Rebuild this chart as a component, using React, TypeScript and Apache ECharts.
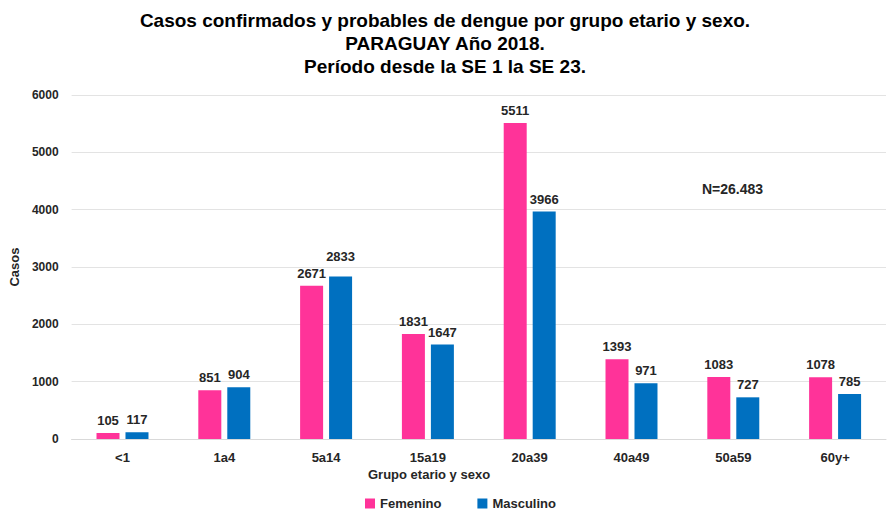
import React, { useEffect, useRef } from "react";
import * as echarts from "echarts";

const categories = ["<1", "1a4", "5a14", "15a19", "20a39", "40a49", "50a59", "60y+"];
const femenino = [105, 851, 2671, 1831, 5511, 1393, 1083, 1078];
const masculino = [117, 904, 2833, 1647, 3966, 971, 727, 785];
const titleLines = [
  "Casos confirmados y probables de dengue por grupo etario y sexo.",
  "PARAGUAY Año 2018.",
  "Período desde la SE 1 la SE 23.",
];

const FONT = "Liberation Sans, Arial, sans-serif";

export default function App() {
  const ref = useRef<HTMLDivElement>(null);
  useEffect(() => {
    if (!ref.current) return;
    const chart = echarts.init(ref.current, null, { renderer: "svg" });
    const labelStyle = {
      show: true,
      position: "top" as const,
      color: "#262626",
      fontWeight: "bold" as const,
      fontSize: 13,
      fontFamily: FONT,
      distance: 6,
    };
    chart.setOption({
      animation: false,
      textStyle: { fontFamily: FONT },
      title: {
        text: titleLines.join("\n"),
        left: "center",
        top: 4,
        padding: [5, 0, 5, 18],
        textStyle: {
          fontSize: 19,
          fontWeight: "bold",
          color: "#000",
          lineHeight: 23,
          fontFamily: FONT,
        },
      },
      legend: {
        data: ["Femenino", "Masculino"],
        bottom: -4,
        left: 360,
        itemWidth: 10,
        itemHeight: 10,
        itemGap: 36,
        icon: "rect",
        textStyle: { fontSize: 13, fontWeight: "bold", color: "#262626", fontFamily: FONT },
      },
      grid: { left: 70, right: 4, top: 95, bottom: 72 },
      xAxis: {
        type: "category",
        data: categories,
        axisTick: { show: false },
        axisLine: { lineStyle: { color: "#D9D9D9" } },
        axisLabel: { fontSize: 13, fontWeight: "bold", color: "#262626", margin: 12 },
      },
      yAxis: {
        type: "value",
        min: 0,
        max: 6000,
        interval: 1000,
        name: "Casos",
        nameLocation: "middle",
        nameGap: 50,
        nameTextStyle: { fontSize: 13, fontWeight: "bold", color: "#262626" },
        axisLabel: {
          fontSize: 12,
          fontWeight: "bold",
          color: "#262626",
          margin: 13,
          formatter: (v: number) => String(v),
        },
        splitLine: { lineStyle: { color: "#E3E3E3" } },
      },
      graphic: [
        {
          type: "text",
          left: 368,
          top: 468,
          style: { text: "Grupo etario y sexo", fontSize: 13, fontWeight: "bold", fill: "#262626", fontFamily: FONT },
        },
        {
          type: "text",
          left: 702,
          top: 182,
          style: { text: "N=26.483", fontSize: 14, fontWeight: "bold", fill: "#262626", fontFamily: FONT },
        },
      ],
      series: [
        {
          name: "Femenino",
          type: "bar",
          data: femenino,
          barWidth: 23,
          barGap: "26%",
          itemStyle: { color: "#FF3399" },
          label: labelStyle,
        },
        {
          name: "Masculino",
          type: "bar",
          data: masculino.map((v, i) =>
            i === 2 ? { value: v, label: { offset: [0, -8] } } : v
          ),
          barWidth: 23,
          itemStyle: { color: "#0070C0" },
          label: labelStyle,
        },
      ],
    });
    return () => chart.dispose();
  }, []);
  return (
    <div
      ref={ref}
      style={{ position: "absolute", left: 0, top: 0, width: 890, height: 511 }}
    />
  );
}
